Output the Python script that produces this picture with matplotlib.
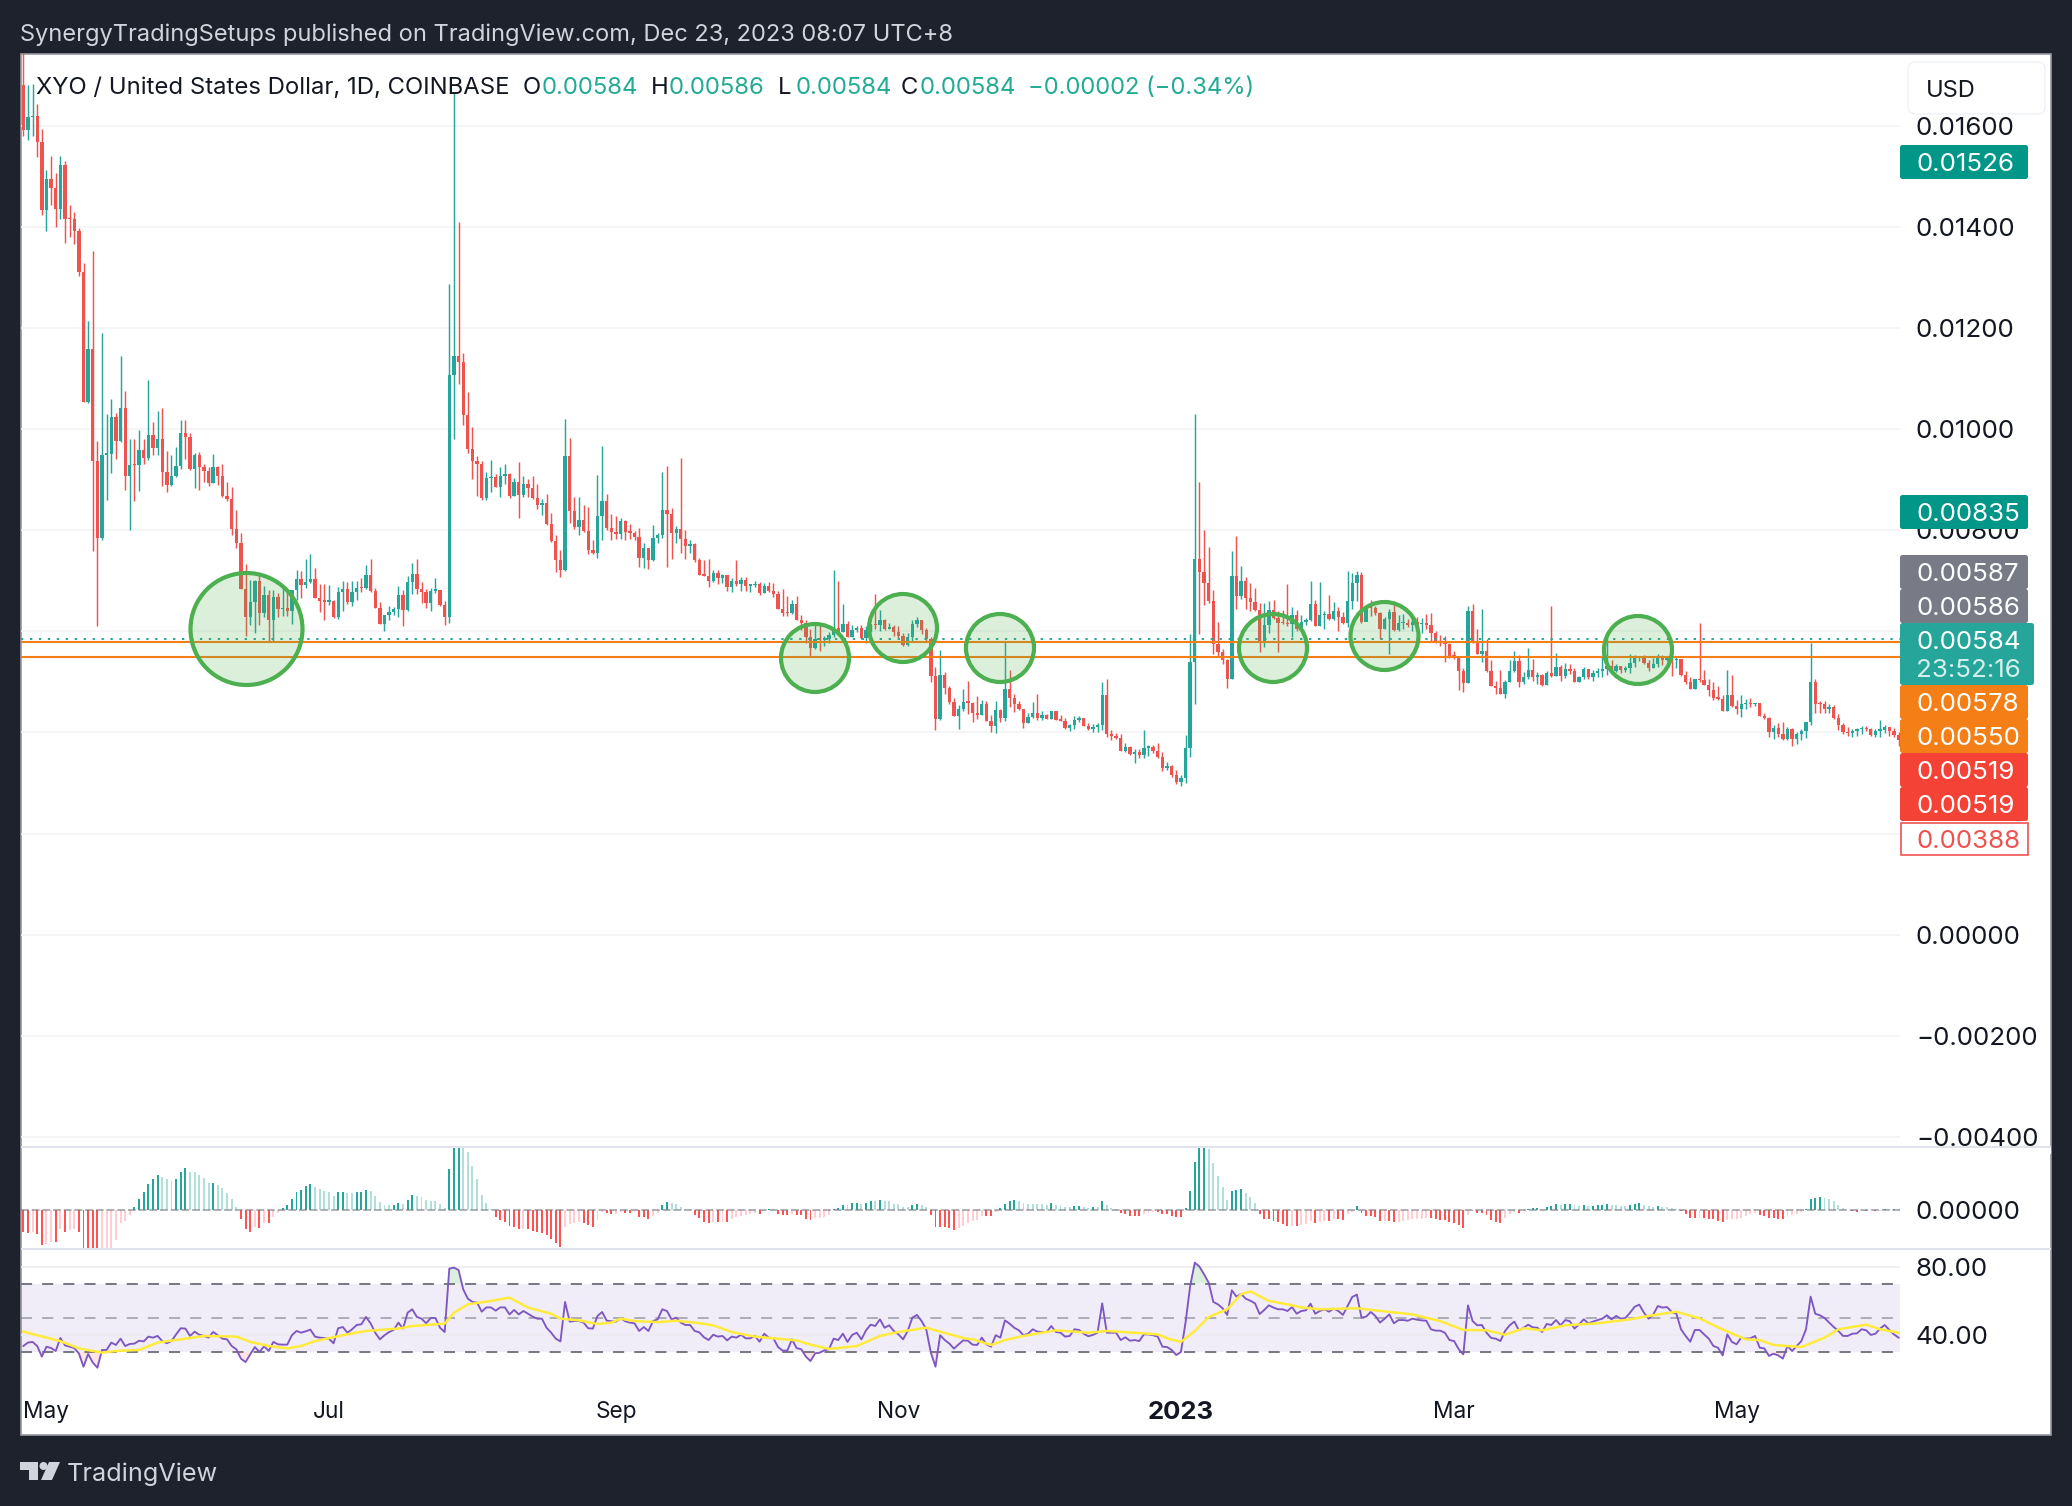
import matplotlib
matplotlib.use('Agg')
import matplotlib.pyplot as plt
import numpy as np
import pandas as pd
from matplotlib.patches import Circle, FancyBboxPatch, Polygon, Rectangle

W, H = 2072, 1506
DARK = '#1e222d'
TEAL = '#26a69a'
RED = '#ef5350'
ORANGE = '#f57f17'
SCALE_FONT = 18.7
plt.rcParams['font.family'] = ['Inter', 'DejaVu Sans']

FIRST_DAY = '2022-04-26'
FIRST_OPEN = 1681

# prices are in units of 0.00001, each open is the close before it
CLOSES = [
    1591, 1617, 1619, 1568, 1433, 1494, 1476, 1435, 1522, 1416,
    1415, 1392, 1310, 1053, 1159, 936, 784, 949, 951, 1023,
    977, 1042, 908, 930, 929, 958, 942, 989, 962, 981,
    915, 890, 907, 928, 992, 985, 921, 949, 926, 918,
    894, 926, 908, 868, 862, 803, 775, 684, 629, 658,
    699, 637, 671, 622, 667, 644, 647, 640, 682, 703,
    691, 697, 703, 665, 660, 659, 661, 628, 678, 684,
    658, 678, 686, 685, 711, 680, 646, 614, 633, 638,
    644, 671, 643, 697, 714, 684, 678, 656, 680, 682,
    652, 628, 1108, 1145, 1133, 1027, 960, 936, 931, 864,
    903, 905, 885, 907, 911, 867, 895, 869, 892, 883,
    864, 850, 853, 812, 778, 741, 721, 947, 838, 806,
    820, 798, 761, 755, 828, 858, 804, 797, 792, 818,
    796, 795, 786, 745, 764, 742, 784, 790, 840, 832,
    795, 803, 782, 769, 773, 741, 711, 710, 700, 716,
    705, 711, 688, 699, 693, 701, 690, 691, 693, 675,
    690, 680, 674, 645, 637, 636, 654, 622, 616, 589,
    568, 584, 583, 585, 592, 606, 598, 614, 589, 602,
    607, 587, 603, 614, 612, 623, 604, 609, 598, 591,
    573, 588, 614, 622, 602, 584, 511, 426, 513, 487,
    461, 432, 446, 460, 459, 439, 435, 457, 423, 413,
    444, 429, 485, 469, 457, 446, 419, 430, 439, 428,
    434, 427, 443, 424, 423, 408, 414, 424, 428, 413,
    406, 411, 414, 474, 396, 393, 390, 364, 372, 357,
    362, 355, 370, 371, 364, 351, 330, 334, 316, 302,
    309, 370, 539, 744, 718, 695, 660, 574, 560, 544,
    505, 709, 670, 699, 666, 658, 642, 577, 612, 643,
    627, 617, 616, 614, 633, 604, 618, 622, 655, 611,
    632, 635, 624, 641, 629, 616, 660, 695, 712, 619,
    651, 647, 637, 605, 624, 639, 602, 616, 617, 612,
    619, 614, 617, 613, 596, 579, 576, 574, 552, 550,
    522, 498, 640, 576, 556, 561, 522, 492, 487, 477,
    500, 521, 541, 500, 510, 523, 509, 513, 494, 517,
    511, 529, 511, 526, 521, 500, 509, 525, 510, 517,
    521, 525, 531, 521, 531, 523, 528, 538, 548, 550,
    537, 527, 536, 552, 543, 550, 543, 546, 513, 499,
    486, 505, 503, 494, 484, 469, 467, 443, 474, 452,
    446, 456, 459, 456, 458, 433, 428, 401, 408, 397,
    387, 407, 387, 397, 403, 420, 500, 457, 456, 447,
    450, 428, 415, 400, 398, 403, 406, 409, 406, 395,
    403, 405, 411, 402, 395, 385,
]
HIGHS = [
    1750, 1680, 1683, 1644, 1593, 1513, 1541, 1506, 1541, 1530,
    1443, 1429, 1397, 1329, 1214, 1352, 976, 1191, 1030, 1059,
    1032, 1145, 1076, 981, 981, 999, 981, 1098, 1015, 1036,
    1042, 957, 949, 965, 1019, 1019, 993, 953, 955, 932,
    926, 951, 928, 932, 896, 885, 840, 794, 733, 701,
    701, 716, 690, 681, 681, 675, 688, 684, 682, 722,
    719, 743, 753, 726, 693, 693, 691, 662, 688, 699,
    697, 700, 699, 705, 731, 743, 686, 659, 633, 650,
    648, 690, 681, 709, 735, 744, 697, 684, 686, 706,
    682, 661, 1288, 1666, 1409, 1150, 1074, 1004, 946, 936,
    915, 938, 912, 926, 931, 914, 904, 935, 908, 902,
    907, 891, 861, 871, 835, 790, 761, 1020, 982, 866,
    865, 849, 845, 780, 909, 966, 871, 833, 828, 825,
    821, 812, 799, 804, 774, 764, 810, 794, 915, 927,
    843, 808, 943, 800, 780, 775, 746, 742, 744, 721,
    722, 713, 711, 705, 742, 707, 707, 693, 699, 698,
    696, 697, 695, 680, 683, 670, 662, 669, 632, 622,
    604, 614, 616, 591, 598, 721, 699, 655, 620, 612,
    610, 612, 610, 615, 674, 642, 625, 617, 612, 610,
    597, 596, 622, 629, 620, 606, 589, 529, 564, 519,
    492, 469, 454, 486, 501, 461, 473, 464, 463, 434,
    462, 446, 579, 523, 477, 462, 447, 438, 460, 476,
    442, 437, 443, 442, 434, 428, 417, 432, 432, 424,
    418, 417, 418, 499, 505, 405, 398, 397, 380, 373,
    368, 368, 405, 375, 375, 380, 362, 341, 335, 325,
    316, 395, 594, 1030, 895, 800, 766, 682, 618, 566,
    546, 759, 788, 729, 707, 695, 685, 656, 657, 660,
    662, 641, 642, 693, 648, 643, 632, 626, 699, 663,
    698, 641, 672, 659, 648, 639, 719, 716, 719, 718,
    653, 663, 651, 639, 629, 645, 655, 632, 635, 625,
    629, 629, 627, 635, 637, 600, 592, 590, 577, 561,
    551, 527, 650, 655, 604, 644, 584, 543, 502, 523,
    503, 543, 561, 553, 520, 567, 545, 520, 515, 522,
    650, 558, 533, 538, 535, 527, 511, 529, 523, 523,
    527, 553, 586, 544, 536, 531, 531, 555, 554, 551,
    554, 543, 548, 556, 553, 552, 552, 552, 543, 521,
    510, 505, 616, 523, 505, 499, 492, 475, 523, 513,
    464, 475, 467, 469, 459, 458, 438, 430, 415, 418,
    420, 411, 408, 401, 407, 420, 577, 505, 463, 462,
    457, 454, 436, 419, 410, 407, 408, 413, 413, 408,
    407, 424, 414, 410, 408, 401,
]
LOWS = [
    1579, 1572, 1579, 1539, 1423, 1392, 1443, 1400, 1415, 1369,
    1380, 1367, 1303, 1053, 1052, 758, 610, 780, 860, 913,
    941, 975, 880, 801, 858, 877, 932, 939, 949, 949,
    888, 875, 888, 905, 922, 940, 920, 883, 880, 896,
    887, 893, 890, 865, 858, 790, 764, 684, 591, 612,
    597, 612, 629, 580, 581, 629, 631, 631, 614, 663,
    665, 686, 696, 665, 639, 623, 653, 627, 624, 640,
    654, 650, 662, 678, 684, 678, 646, 614, 601, 623,
    633, 629, 610, 641, 673, 673, 656, 646, 640, 676,
    650, 612, 616, 981, 1089, 1009, 953, 902, 867, 860,
    860, 875, 885, 866, 891, 864, 867, 825, 865, 866,
    862, 842, 830, 810, 777, 718, 708, 720, 815, 802,
    790, 797, 753, 753, 745, 780, 800, 780, 782, 782,
    780, 782, 780, 728, 726, 724, 740, 775, 785, 728,
    743, 775, 755, 743, 755, 737, 711, 710, 688, 698,
    693, 695, 680, 678, 689, 680, 680, 678, 688, 671,
    675, 678, 668, 644, 631, 630, 634, 622, 602, 576,
    550, 566, 561, 571, 576, 589, 596, 598, 588, 588,
    598, 584, 577, 599, 604, 600, 602, 604, 590, 587,
    571, 571, 579, 609, 594, 579, 500, 405, 424, 476,
    456, 432, 407, 443, 437, 421, 426, 434, 423, 401,
    399, 421, 423, 451, 441, 444, 409, 418, 428, 424,
    424, 426, 426, 424, 422, 406, 403, 406, 421, 412,
    405, 401, 401, 405, 391, 386, 387, 364, 362, 355,
    340, 350, 350, 354, 360, 350, 324, 326, 311, 298,
    295, 301, 352, 456, 594, 652, 656, 555, 549, 536,
    488, 505, 645, 664, 645, 641, 640, 560, 569, 596,
    625, 560, 614, 610, 589, 601, 602, 612, 620, 610,
    611, 604, 622, 622, 600, 614, 608, 645, 660, 617,
    621, 630, 632, 584, 604, 555, 601, 601, 604, 609,
    601, 610, 597, 604, 579, 576, 572, 540, 548, 545,
    484, 480, 498, 576, 555, 540, 520, 492, 476, 476,
    469, 500, 519, 490, 496, 506, 502, 496, 492, 494,
    510, 511, 502, 508, 515, 500, 500, 506, 506, 502,
    510, 510, 513, 520, 520, 518, 520, 518, 530, 541,
    535, 522, 528, 530, 533, 542, 511, 528, 512, 495,
    485, 486, 500, 494, 473, 464, 464, 442, 442, 451,
    436, 431, 446, 451, 452, 433, 427, 391, 388, 391,
    386, 385, 374, 377, 385, 389, 415, 439, 439, 439,
    439, 426, 405, 397, 393, 391, 393, 397, 403, 393,
    391, 391, 399, 393, 391, 374,
]

# macd histogram, units of 0.000001
HIST = [
    -67, -69, -66, -72, -106, -102, -97, -97, -57, -67,
    -60, -57, -67, -125, -135, -140, -150, -135, -125, -115,
    -91, -39, -34, -16, 8, 31, 53, 77, 92, 104,
    98, 91, 86, 92, 113, 125, 113, 113, 104, 95,
    80, 81, 74, 64, 50, 31, 8, -27, -57, -67,
    -52, -54, -39, -39, -21, -9, 6, 14, 33, 52,
    60, 70, 77, 69, 62, 55, 53, 42, 52, 53,
    50, 50, 53, 54, 59, 55, 40, 23, 14, 14,
    15, 20, 17, 30, 44, 40, 37, 28, 26, 26,
    17, 5, 122, 189, 195, 190, 173, 131, 92, 44,
    21, 3, -22, -31, -37, -49, -52, -58, -57, -57,
    -64, -67, -69, -76, -87, -99, -112, -52, -44, -41,
    -37, -41, -47, -52, -31, -6, -9, -14, -13, -7,
    -9, -9, -7, -21, -23, -27, -19, -9, 13, 22,
    19, 16, 9, 2, 1, -17, -24, -38, -40, -37,
    -37, -36, -38, -28, -22, -18, -15, -12, -10, -13,
    -5, 1, 1, -12, -17, -17, -12, -15, -17, -28,
    -31, -26, -25, -21, -15, 3, 6, 15, 14, 20,
    21, 16, 20, 26, 26, 29, 26, 26, 18, 16,
    7, 7, 14, 17, 15, 8, -16, -52, -52, -52,
    -55, -61, -54, -49, -41, -35, -31, -19, -19, -19,
    -7, 6, 16, 26, 29, 25, 20, 17, 17, 16,
    16, 15, 20, 15, 13, 9, 7, 10, 11, 9,
    6, 8, 7, 25, 13, 5, 2, -10, -12, -18,
    -18, -18, -12, -9, -6, -6, -13, -13, -19, -21,
    -21, 5, 55, 143, 186, 189, 182, 140, 100, 67,
    29, 55, 60, 62, 50, 37, 20, -14, -27, -28,
    -34, -38, -44, -49, -48, -50, -46, -44, -34, -40,
    -36, -33, -34, -29, -29, -30, -14, -7, 10, -9,
    -18, -18, -21, -34, -33, -34, -37, -36, -33, -30,
    -29, -28, -27, -24, -25, -27, -30, -31, -36, -40,
    -45, -54, -17, -4, -9, -10, -17, -31, -38, -39,
    -26, -14, -7, -9, -3, 3, 5, 6, 3, 8,
    11, 17, 14, 17, 18, 14, 11, 14, 11, 12,
    13, 14, 18, 14, 13, 11, 10, 13, 17, 20,
    15, 10, 7, 10, 9, 8, 6, 3, -4, -14,
    -25, -26, -24, -26, -28, -29, -33, -36, -30, -29,
    -27, -24, -19, -14, -10, -17, -20, -25, -26, -27,
    -29, -21, -17, -14, -8, 2, 32, 36, 38, 35,
    32, 27, 15, 6, -2, -3, -8, -2, -3, -2,
    -4, -3, 2, 1, 2, 1,
]

RSI = [
    33.5, 35.5, 35.9, 33.5, 27.3, 33.1, 32.3, 30.6, 38.2, 33.9,
    33.1, 32.3, 29.2, 21.4, 28.8, 23.8, 20.8, 31.2, 31.2, 35.5,
    34.1, 37.8, 33.5, 34.7, 34.9, 36.6, 36.2, 39, 38.4, 39.4,
    36.4, 35.1, 36.4, 40.3, 43.9, 43.7, 39.4, 41.9, 40.1, 39.4,
    38.4, 41.7, 39.8, 37.8, 37.4, 33.5, 31.6, 26.1, 24.1, 28.6,
    32.9, 30, 33.3, 30.6, 35.9, 34.5, 34.3, 34.3, 39.8, 42.3,
    41.3, 42.1, 43.1, 39, 38.4, 38.2, 37.8, 35.1, 43.9, 44.6,
    41.3, 43.3, 45.8, 46.2, 50.5, 46.8, 41.3, 37.4, 39.8, 41.7,
    42.9, 47.2, 43.7, 53, 55, 50.5, 49.5, 46.8, 49.9, 49.9,
    44.2, 41.7, 78.8, 79.4, 78, 66.7, 61.2, 59.3, 58.9, 53.6,
    56.1, 56.1, 54.2, 56.1, 56.1, 52, 54.6, 52, 54, 52.4,
    50.7, 49.5, 49.5, 44.2, 41.3, 37.8, 36.2, 59.3, 47.8, 48.1,
    48.1, 47.2, 43.9, 43.7, 51.1, 53.4, 48.3, 48, 47.8, 49.7,
    48, 47.2, 46.8, 42.3, 44.6, 42.3, 48.1, 49.1, 55, 54,
    49.1, 50.1, 47.2, 45.8, 45.8, 42.3, 41.5, 38.6, 37, 40.1,
    39, 39.4, 36.8, 39, 38.4, 40.1, 38, 38, 39.4, 36,
    40.7, 38.4, 38, 32.9, 30.8, 30.8, 37.4, 32.3, 31.6, 27.3,
    24.7, 29.2, 29.6, 31, 31.6, 37.8, 37, 40.7, 35.9, 40,
    41.3, 37.4, 42.7, 46, 45.2, 49.1, 44.2, 45.6, 42.3, 40.3,
    37.4, 42.3, 50.1, 51.7, 48.1, 43.3, 29.6, 21.4, 39.8, 37,
    34.9, 32, 34.5, 36.8, 36.6, 34.3, 34.1, 38.4, 34.5, 33.1,
    39.8, 38.4, 48.5, 46.6, 44.2, 42.7, 39.8, 40.7, 43.3, 41.9,
    41.7, 41.7, 45.2, 41.7, 41.3, 39, 39.4, 43.3, 42.9, 40.7,
    39.2, 40, 41.3, 58.5, 41.3, 41.3, 41.3, 37, 38.6, 36.6,
    37, 36.4, 40.3, 40.3, 39.8, 39, 33.1, 32.9, 31.2, 28.2,
    30, 47.2, 68.6, 82.3, 80, 75.5, 70.6, 59.3, 57.9, 55.6,
    51.7, 66.1, 62.4, 64, 61.2, 60, 58.5, 52.2, 54.6, 57.3,
    56, 55, 55, 54, 56.3, 52.4, 54, 54.4, 58.3, 52.4,
    54, 55, 53.6, 55.4, 54, 51.7, 56.9, 62.2, 63.6, 50.1,
    50.7, 53.4, 51.1, 47.2, 49.5, 52, 46.8, 48.7, 48.7, 48.3,
    49.5, 48.9, 48.5, 48.3, 43.3, 42.5, 42.5, 41.3, 37, 36.4,
    31.6, 28.6, 57.3, 48.1, 45.6, 45.8, 41.3, 38.2, 37.8, 36.4,
    42.3, 45.6, 47.8, 42.7, 44.2, 46, 44.4, 44.2, 41.7, 46.4,
    45.8, 48.7, 45.6, 48.7, 48, 43.7, 46.2, 49.1, 46.8, 47.8,
    48.7, 49.5, 51.5, 49.1, 51.1, 49.5, 49.9, 53, 56.5, 57.7,
    53, 49.5, 51.9, 56.9, 56, 56.3, 53.4, 52.4, 43.3, 39.4,
    36, 42.9, 42.9, 40.3, 37.8, 33.5, 32.5, 28, 40.3, 35.9,
    34.5, 38.4, 37.8, 38, 39.4, 32.5, 32.1, 27.7, 29, 28,
    26.1, 33.5, 30.6, 33.5, 36.4, 43.3, 62.4, 52.4, 51.5, 49.9,
    47.2, 44.6, 42.3, 39.4, 39.4, 40.7, 40.9, 43.3, 42.7, 40,
    40.7, 43.7, 45.8, 42.9, 40.3, 38.4,
]

# the yellow rsi average, read at its bends
RSI_MA_BARS = [
    0, 5, 8, 12, 17, 20, 25, 29, 35, 39, 46, 49, 53, 57, 60, 63, 69, 74, 81, 84,
    91, 93, 96, 101, 105, 109, 114, 116, 120, 124, 127, 129, 132, 137, 141, 145,
    149, 153, 158, 162, 167, 170, 174, 180, 185, 189, 195, 198, 203, 205, 209,
    212, 216, 223, 230, 234, 240, 245, 247, 250, 253, 256, 260, 263, 265, 269,
    273, 276, 280, 288, 300, 306, 311, 316, 320, 324, 328, 333, 340, 347, 351,
    357, 362, 366, 372, 375, 378, 384, 389, 392, 398, 401, 405,
]
RSI_MA = [
    41.9, 38.4, 36.4, 32.1, 29.6, 30.6, 31.2, 35.5, 37.8, 39.4, 39, 35.9, 33.5,
    32.1, 33.5, 36.4, 39.8, 42.3, 43.7, 45.2, 46.6, 53, 57.9, 59.9, 61.8, 56,
    52.4, 49.5, 48.5, 46.4, 47.2, 49.5, 48.1, 47.5, 48.3, 47.2, 45.6, 41.7, 39,
    38, 36.8, 34.3, 31.8, 33.5, 39.4, 41.7, 44.2, 41.9, 38.2, 37.4, 34.1, 37,
    39.4, 42.7, 41.3, 42.3, 41.3, 40.3, 38, 35.9, 42.3, 50.5, 55, 63.8, 65.5,
    59.9, 57.9, 56.1, 55, 55.6, 52, 48.1, 42.9, 42.7, 40.1, 43.9, 42.7, 45.6,
    46.8, 49.1, 51.1, 53.6, 49.7, 44.4, 37.4, 37, 34.1, 32.9, 38.4, 43.3, 46,
    43.3, 41.3,
]

PRICE_TICKS = [0.016, 0.014, 0.012, 0.010, 0.008, 0.006, 0.004, 0.002, 0.0, -0.002, -0.004]
# these three labels sit fully behind the price tags in the reference
HIDDEN_TICKS = [0.006, 0.004, 0.002]
MONTH_DAYS = ['2022-05-01', '2022-07-01', '2022-09-01', '2022-11-01', '2023-01-01', '2023-03-01', '2023-05-01']
MONTH_LABELS = ['May', 'Jul', 'Sep', 'Nov', '2023', 'Mar', 'May']

# drawn levels and the tags on the price scale
LAST_PRICE = 0.00584
LEVELS = [0.00578, 0.00550]
TAG_TEXTS = ['0.01526', '0.00835', '0.00587', '0.00586', '0.00578', '0.00550', '0.00519', '0.00519']
TAG_COLORS = ['#009688', '#009688', '#787b86', '#787b86', ORANGE, ORANGE, '#f44336', '#f44336']


def pane(left, top, right, bottom):
    ax = fig.add_axes([left / W, 1 - bottom / H, (right - left) / W, (bottom - top) / H])
    for side in ax.spines.values():
        side.set_visible(False)
    ax.set_xlim(-0.5, 405.3)
    ax.tick_params(length=0, labelsize=SCALE_FONT, labelcolor='#131722')
    ax.yaxis.tick_right()
    ax.set_xticks([])
    ax.patch.set_alpha(0)
    return ax


def center_labels(ax):
    for label in ax.get_yticklabels():
        label.set_verticalalignment('center_baseline')


fig = plt.figure(figsize=(W / 100, H / 100), facecolor=DARK)

back = fig.add_axes([0, 0, 1, 1], zorder=-1)
back.set_xlim(0, W)
back.set_ylim(H, 0)
back.axis('off')
back.add_patch(Rectangle((21, 54), 2030, 1381, fc='white', ec='#9598a1', lw=1.2))

# price pane
ax_price = pane(21, 54, 1900, 1145)
closes = np.array(CLOSES) / 1e5
highs = np.array(HIGHS) / 1e5
lows = np.array(LOWS) / 1e5
opens = np.r_[FIRST_OPEN / 1e5, closes[:-1]]
bars = np.arange(len(closes))
colors = [TEAL if c >= o else RED for o, c in zip(opens, closes)]
ax_price.set_ylim(-0.00416, 0.01742)
ax_price.set_yticks(PRICE_TICKS)
ax_price.set_yticklabels(['' if t in HIDDEN_TICKS else f'{t:.5f}'.replace('-', '\u2212') for t in PRICE_TICKS])
ax_price.tick_params(axis='y', pad=11.5)
center_labels(ax_price)
for t in PRICE_TICKS:
    ax_price.axhline(t, color='#f3f3f5', lw=1.1, zorder=1)
ax_price.vlines(bars, lows, highs, colors=colors, lw=1.05, zorder=2)
bottoms = np.minimum(opens, closes)
heights = np.maximum(np.abs(closes - opens), 0.00003)
ax_price.bar(bars, heights, 0.72, bottoms, color=colors, zorder=3)
ax_price.axhline(LAST_PRICE, color=TEAL, lw=1.4, ls=(0, (1.2, 3.4)), zorder=4)
for level in LEVELS:
    ax_price.axhline(level, color=ORANGE, lw=1.5, zorder=4)

# macd histogram pane
ax_macd = pane(21, 1147, 1900, 1248)
hist = np.array(HIST, dtype=float)
previous = np.r_[hist[0] + 1, hist[:-1]]
hist_colors = []
for now, before in zip(hist, previous):
    if now >= 0:
        hist_colors.append('#26a69a' if now > before else '#b2dfdb')
    else:
        hist_colors.append('#ffcdd2' if now > before else '#ff5252')
ax_macd.set_ylim(-115, 188)
ax_macd.bar(bars, hist, 0.42, color=hist_colors, zorder=2)
ax_macd.axhline(0, color='#787b86', alpha=0.6, lw=1.4, ls=(0, (4, 1.5)), zorder=3)
ax_macd.set_yticks([0])
ax_macd.set_yticklabels(['0.00000'])
ax_macd.tick_params(axis='y', pad=11.5)
center_labels(ax_macd)

# rsi pane, the time labels hang under it
ax_rsi = pane(21, 1250, 1900, 1400)
rsi = np.array(RSI)
ax_rsi.set_ylim(1.9, 89.7)
ax_rsi.axhspan(30, 70, color='#7e57c2', alpha=0.1, lw=0, zorder=1)
for level in [80, 40]:
    ax_rsi.axhline(level, color='#ebebf0', lw=1.1, zorder=1)
ax_rsi.axhline(70, color='#787b86', lw=1.45, ls=(0, (5.5, 5)), zorder=2)
ax_rsi.axhline(50, color='#787b86', alpha=0.55, lw=1.45, ls=(0, (5.5, 5)), zorder=2)
ax_rsi.axhline(30, color='#787b86', lw=1.45, ls=(0, (5.5, 5)), zorder=2)
ax_rsi.fill_between(bars, 70, rsi, where=rsi > 70, interpolate=True, color='#4caf50', alpha=0.2, lw=0, zorder=2)
ax_rsi.fill_between(bars, 30, rsi, where=rsi < 30, interpolate=True, color='#ef5350', alpha=0.15, lw=0, zorder=2)
ax_rsi.plot(bars, rsi, color='#7e57c2', lw=1.35, zorder=3)
ax_rsi.plot(RSI_MA_BARS, RSI_MA, color='#ffeb3b', lw=1.8, zorder=4)
ax_rsi.set_yticks([80, 40])
ax_rsi.set_yticklabels(['80.00', '40.00'])
ax_rsi.tick_params(axis='y', pad=11.5)
center_labels(ax_rsi)
days = pd.date_range(FIRST_DAY, periods=len(bars))
ax_rsi.set_xticks([days.get_loc(pd.Timestamp(d)) for d in MONTH_DAYS])
ax_rsi.set_xticklabels(MONTH_LABELS)
ax_rsi.tick_params(axis='x', pad=1, labelsize=16.3)
for label in ax_rsi.get_xticklabels():
    if label.get_text() == '2023':
        label.set_fontweight('bold')
        label.set_fontsize(18.5)

# everything that sits on top in picture pixels
top = fig.add_axes([0, 0, 1, 1], zorder=5)
top.set_xlim(0, W)
top.set_ylim(H, 0)
top.axis('off')
top.patch.set_alpha(0)

# the -0.00400 label is cut by the pane edge
top.add_patch(Rectangle((1901, 1146), 150, 8, fc='white', lw=0))
top.add_patch(Rectangle((21, 1146), 2030, 1.6, fc='#e0e3eb', lw=0))
top.add_patch(Rectangle((21, 1247.5), 2030, 2, fc='#e0e3eb', lw=0))

for cx, cy, r in [(246.5, 629, 56), (815, 658, 34), (903, 628, 34), (1000, 648, 34),
                  (1273, 648, 34), (1384.5, 636, 34), (1638, 650, 34)]:
    top.add_patch(Circle((cx, cy), r, fc=(0.30, 0.69, 0.31, 0.2), ec='#4caf50', lw=3))


def tag(y, height, color, text, right=2028):
    box = FancyBboxPatch((1900, y), right - 1900, height, boxstyle='round,pad=0,rounding_size=2.5', fc=color, lw=0)
    top.add_patch(box)
    top.text(1916.5, y + 17, text, color='white', fontsize=SCALE_FONT, va='center_baseline', ha='left')


tag(145, 34, TAG_COLORS[0], TAG_TEXTS[0])
tag(495, 34, TAG_COLORS[1], TAG_TEXTS[1])
for n in range(2, 4):
    tag(555 + 34 * (n - 2), 34, TAG_COLORS[n], TAG_TEXTS[n])
for n in range(4, 8):
    tag(685 + 34 * (n - 4), 34, TAG_COLORS[n], TAG_TEXTS[n])
tag(623, 62, TEAL, '0.00584', right=2034)
top.text(1916.5, 668, '23:52:16', color='#d4efec', fontsize=SCALE_FONT, va='center_baseline', ha='left')
top.add_patch(Rectangle((1900.5, 823), 127, 31.5, fc='white', ec=RED, lw=1.2))
top.text(1916.5, 839, '0.00388', color=RED, fontsize=SCALE_FONT, va='center_baseline', ha='left')

top.add_patch(FancyBboxPatch((1908, 62), 137, 52, boxstyle='round,pad=0,rounding_size=7', fc='white', ec='#f0f3fa', lw=1.2))
top.text(1926, 88, 'USD', color='#131722', fontsize=17, va='center_baseline', ha='left')

# legend row over the chart
top.text(36, 85, 'XYO / United States Dollar, 1D, COINBASE', color='#131722', fontsize=17.2, va='center_baseline')
for x, name, vx, value in [(523, 'O', 542, '0.00584'), (651, 'H', 669, '0.00586'),
                           (778, 'L', 796, '0.00584'), (901, 'C', 920, '0.00584')]:
    top.text(x, 85, name, color='#131722', fontsize=17.2, va='center_baseline')
    top.text(vx, 85, value, color='#22ab94', fontsize=17.2, va='center_baseline')
top.text(1028, 85, '\u22120.00002 (\u22120.34%)', color='#22ab94', fontsize=17.1, va='center_baseline')

# dark frame text
top.text(20, 32, 'SynergyTradingSetups published on TradingView.com, Dec 23, 2023 08:07 UTC+8',
         color='#d1d4dc', fontsize=17, va='center_baseline')
logo = '#d1d4dc'
top.add_patch(Polygon([(20, 1462), (38, 1462), (38, 1480), (29, 1480), (29, 1470), (20, 1470)], fc=logo, lw=0))
top.add_patch(Circle((43.5, 1466), 4, fc=logo, lw=0))
top.add_patch(Polygon([(49, 1462), (60, 1462), (52, 1480), (41, 1480)], fc=logo, lw=0))
top.text(67, 1472, 'TradingView', color=logo, fontsize=18.2, va='center_baseline')

fig.savefig('out.png', dpi=100, facecolor=DARK)
